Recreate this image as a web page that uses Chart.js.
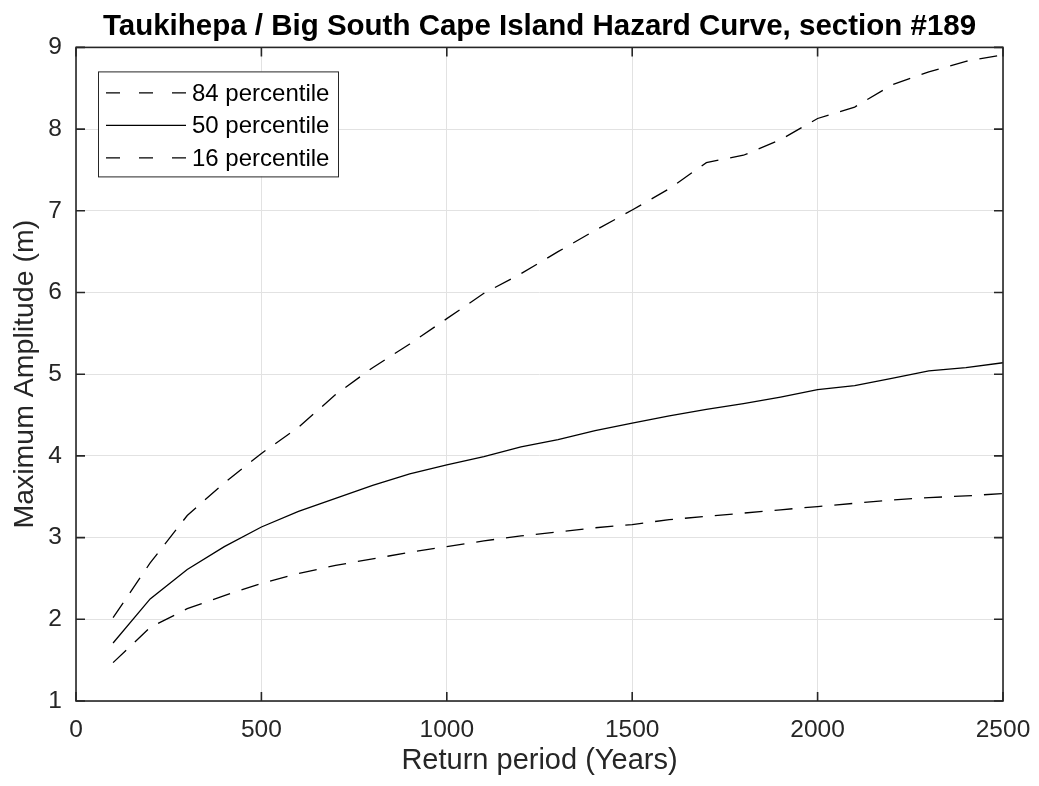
<!DOCTYPE html>
<html>
<head>
<meta charset="utf-8">
<script src="https://cdn.jsdelivr.net/npm/chart.js@4/dist/chart.umd.min.js"></script>
<style>
  html, body { margin: 0; padding: 0; background: #ffffff; }
  #wrap { width: 1039px; height: 786px; }
</style>
</head>
<body>
<div id="wrap"><canvas id="hazard"></canvas></div>
<script>
// Hazard curve, section #189

const returnPeriods = [100, 200, 300, 400, 500, 600, 700, 800, 900, 1000,
  1100, 1200, 1300, 1400, 1500, 1600, 1700, 1800, 1900, 2000,
  2100, 2200, 2300, 2400, 2500];

const p84 = [2.02, 2.69, 3.27, 3.67, 4.03, 4.35, 4.75, 5.08, 5.37, 5.68,
  5.99, 6.23, 6.50, 6.76, 7.01, 7.27, 7.59, 7.68, 7.87, 8.13,
  8.27, 8.54, 8.70, 8.83, 8.91];

const p50 = [1.71, 2.25, 2.61, 2.89, 3.13, 3.32, 3.48, 3.64, 3.78, 3.89,
  3.99, 4.11, 4.20, 4.31, 4.40, 4.49, 4.57, 4.64, 4.72, 4.81,
  4.86, 4.95, 5.04, 5.08, 5.14];

const p16 = [1.47, 1.90, 2.13, 2.29, 2.44, 2.56, 2.66, 2.74, 2.82, 2.89,
  2.96, 3.02, 3.07, 3.12, 3.16, 3.22, 3.26, 3.30, 3.34, 3.38,
  3.42, 3.46, 3.49, 3.51, 3.54];

const seriesLabels = ['84 percentile', '50 percentile', '16 percentile'];

const xTicks = [0, 500, 1000, 1500, 2000, 2500];
const yTicks = [1, 2, 3, 4, 5, 6, 7, 8, 9];

const FONT = "'Liberation Sans', Arial, Helvetica, sans-serif";
const AXIS_COLOR = '#262626';
const DASH = [18, 12];
const LEGEND_DASH = [14, 19];

const toPoints = (vals) => vals.map((v, i) => ({ x: returnPeriods[i], y: v }));

// MATLAB style box: frame on all four sides + inward tick marks
const boxPlugin = {
  id: 'matlabBox',
  afterLayout(chart) {
    // centre the title over the plot area, not the whole canvas
    const t = chart.titleBlock;
    if (t) {
      t.left = chart.chartArea.left;
      t.right = chart.chartArea.right;
      t.width = t.right - t.left;
    }
  },
  afterDatasetsDraw(chart) {
    const { ctx, chartArea: a, scales } = chart;
    const tl = 9;
    ctx.save();
    ctx.strokeStyle = AXIS_COLOR;
    ctx.lineWidth = 1.6;
    ctx.setLineDash([]);
    ctx.beginPath();
    xTicks.forEach(t => {
      const px = scales.x.getPixelForValue(t);
      ctx.moveTo(px, a.bottom); ctx.lineTo(px, a.bottom - tl);
      ctx.moveTo(px, a.top); ctx.lineTo(px, a.top + tl);
    });
    yTicks.forEach(t => {
      const py = scales.y.getPixelForValue(t);
      ctx.moveTo(a.left, py); ctx.lineTo(a.left + tl, py);
      ctx.moveTo(a.right, py); ctx.lineTo(a.right - tl, py);
    });
    ctx.stroke();
    ctx.strokeRect(a.left, a.top, a.right - a.left, a.bottom - a.top);
    ctx.restore();
  }
};

// legend box drawn inside the plot, upper left
const legendPlugin = {
  id: 'insideLegend',
  afterDraw(chart) {
    const { ctx, chartArea: a } = chart;
    const x0 = a.left + 22, y0 = a.top + 24;
    const w = 240, h = 105, rowH = 32.5;
    ctx.save();
    ctx.fillStyle = '#ffffff';
    ctx.fillRect(x0, y0, w, h);
    ctx.strokeStyle = AXIS_COLOR;
    ctx.lineWidth = 1;
    ctx.setLineDash([]);
    ctx.strokeRect(x0 + 0.5, y0 + 0.5, w, h);
    ctx.font = '24px ' + FONT;
    ctx.textBaseline = 'middle';
    ctx.fillStyle = '#000000';
    chart.data.datasets.forEach((ds, i) => {
      const cy = y0 + 21.5 + i * rowH;
      ctx.strokeStyle = ds.borderColor;
      ctx.lineWidth = ds.borderWidth;
      ctx.setLineDash(ds.borderDash && ds.borderDash.length ? LEGEND_DASH : []);
      ctx.beginPath();
      ctx.moveTo(x0 + 8, cy);
      ctx.lineTo(x0 + 88, cy);
      ctx.stroke();
      ctx.fillText(ds.label, x0 + 94, cy + 1);
    });
    ctx.restore();
  }
};

const dashes = [DASH, [], DASH];
const values = [p84, p50, p16];

new Chart(document.getElementById('hazard'), {
  type: 'line',
  data: {
    datasets: values.map((v, i) => ({
      label: seriesLabels[i],
      data: toPoints(v),
      borderColor: '#000000',
      backgroundColor: 'transparent',
      borderWidth: 1.3,
      borderDash: dashes[i],
      pointRadius: 0,
      tension: 0
    }))
  },
  options: {
    responsive: true,
    maintainAspectRatio: false,
    animation: false,
    layout: { padding: { top: 0, right: 36, bottom: 0, left: 0 } },
    plugins: {
      legend: { display: false },
      tooltip: { enabled: false },
      title: {
        display: true,
        text: 'Taukihepa / Big South Cape Island Hazard Curve, section #189',
        color: '#000000',
        font: { family: FONT, size: 29.5, weight: 'bold', lineHeight: 1.2 },
        padding: { top: 9, bottom: 3 }
      }
    },
    scales: {
      x: {
        type: 'linear',
        min: 0,
        max: 2500,
        afterBuildTicks: (s) => { s.ticks = xTicks.map(v => ({ value: v })); },
        afterFit: (s) => {
          s.height = 85;
          s.paddingLeft = 0;
          s.paddingRight = 0;
        },
        grid: { color: '#e2e2e2', lineWidth: 1, drawTicks: false },
        border: { display: false },
        ticks: {
          color: '#262626',
          padding: 15,
          maxRotation: 0,
          font: { family: FONT, size: 24.5 },
          callback: (v) => String(v)
        },
        title: {
          display: true,
          text: 'Return period (Years)',
          color: '#262626',
          font: { family: FONT, size: 29 },
          padding: { top: 0, bottom: 8 }
        }
      },
      y: {
        type: 'linear',
        min: 1,
        max: 9,
        afterBuildTicks: (s) => { s.ticks = yTicks.map(v => ({ value: v })); },
        afterFit: (s) => { s.width = 76; },
        grid: { color: '#e2e2e2', lineWidth: 1, drawTicks: false },
        border: { display: false },
        ticks: {
          color: '#262626',
          padding: 14,
          font: { family: FONT, size: 24.5 },
          callback: (v) => String(v)
        },
        title: {
          display: true,
          text: 'Maximum Amplitude (m)',
          color: '#262626',
          font: { family: FONT, size: 28.5 },
          padding: { top: 8, bottom: 0 }
        }
      }
    }
  },
  plugins: [boxPlugin, legendPlugin]
});
</script>
</body>
</html>
